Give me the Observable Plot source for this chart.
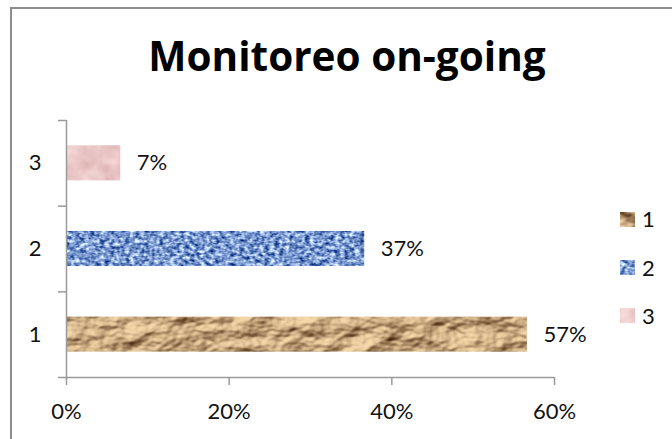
<!DOCTYPE html>
<html>
<head>
<meta charset="utf-8">
<script src="https://cdn.jsdelivr.net/npm/d3@7"></script>
<script src="https://cdn.jsdelivr.net/npm/@observablehq/plot@0.6"></script>
<style>
  html, body { margin: 0; padding: 0; background: #fff; }
  #chart { position: relative; width: 672px; height: 439px; overflow: hidden; font-family: Lato, "Open Sans", sans-serif; }
  #border { position: absolute; left: 10px; top: 7px; width: 700px; height: 470px; border: 2px solid #8c8c8c; box-sizing: border-box; }
  #plot { position: absolute; left: 0; top: 0; }
  #legend { position: absolute; left: 620px; top: 0; }
  .row { position: absolute; left: 0; display: flex; align-items: center; gap: 7px; font-size: 22px; color: #111; line-height: 1; white-space: nowrap; }
  .row svg { display: block; }
</style>
</head>
<body>
<!-- Texture fills for the bars and legend swatches -->
<svg width="0" height="0" style="position:absolute">
  <defs>
    <filter id="f-tan" color-interpolation-filters="sRGB">
      <feTurbulence type="fractalNoise" baseFrequency="0.022 0.035" numOctaves="4" seed="7" result="noise"/>
      <feDiffuseLighting in="noise" surfaceScale="9" diffuseConstant="1" lighting-color="#ffffff" result="lit">
        <feDistantLight azimuth="235" elevation="52"/>
      </feDiffuseLighting>
      <feColorMatrix in="lit" type="matrix" values="0.75 0 0 0 0.22  0.76 0 0 0 0.09  0.68 0 0 0 -0.01  0 0 0 0 1"/>
    </filter>
    <filter id="f-denim" color-interpolation-filters="sRGB">
      <feTurbulence type="fractalNoise" baseFrequency="0.2 0.3" numOctaves="2" seed="3"/>
      <feColorMatrix type="matrix" values="1.475 0 0 0 -0.26  1.375 0 0 0 -0.09  1.0 0 0 0 0.31  0 0 0 0 1"/>
    </filter>
    <filter id="f-rose" color-interpolation-filters="sRGB">
      <feTurbulence type="fractalNoise" baseFrequency="0.05" numOctaves="3" seed="11"/>
      <feColorMatrix type="matrix" values="0.2 0 0 0 0.82  0.3 0 0 0 0.63  0.3 0 0 0 0.63  0 0 0 0 1"/>
    </filter>
    <pattern id="tex-1" patternUnits="userSpaceOnUse" width="672" height="439">
      <rect width="672" height="439" fill="#c3a274" filter="url(#f-tan)"/>
    </pattern>
    <pattern id="tex-2" patternUnits="userSpaceOnUse" width="672" height="439">
      <rect width="672" height="439" fill="#6b8fd6" filter="url(#f-denim)"/>
    </pattern>
    <pattern id="tex-3" patternUnits="userSpaceOnUse" width="672" height="439">
      <rect width="672" height="439" fill="#eac4c4" filter="url(#f-rose)"/>
    </pattern>
  </defs>
</svg>

<div id="chart">
  <div id="border"></div>
  <div id="plot"></div>
  <div id="legend"></div>
</div>

<script>
// Chart data
const title = "Monitoreo on-going";
const categories = ["1", "2", "3"];
const shares = [0.5667, 0.3667, 0.0667];
const xTicks = [0, 0.2, 0.4, 0.6];

// Fill for each category (textures defined in <defs>)
const textures = ["url(#tex-1)", "url(#tex-2)", "url(#tex-3)"];

const pct = d3.format(".0%");
const axisGray = "#9a9a9a";

// One row per category; each category occupies one unit slot on the y scale
const rows = categories.map((category, i) => ({category, share: shares[i], lo: i, hi: i + 1, mid: i + 0.5}));
const boundaries = d3.range(categories.length + 1);
const centers = rows.map(d => d.mid);

const chart = Plot.plot({
  width: 672,
  height: 439,
  marginLeft: 66,
  marginRight: 118,
  marginTop: 120,
  marginBottom: 62,
  style: {fontFamily: "Lato, 'Open Sans', sans-serif", fontSize: "22px", color: "#111", background: "transparent", overflow: "visible"},
  x: {domain: [0, 0.6], label: null},
  y: {domain: [0, categories.length], label: null},
  color: {domain: categories, range: textures},
  marks: [
    Plot.rect(rows, {x1: 0, x2: "share", y1: "lo", y2: "hi", insetTop: 25.3, insetBottom: 25.3, fill: "category"}),
    Plot.ruleX([0], {stroke: axisGray, strokeWidth: 1.5}),
    Plot.ruleY([0], {stroke: axisGray, strokeWidth: 1.5}),
    Plot.axisX(xTicks, {tickSize: 8, tickPadding: 18, tickFormat: pct, stroke: axisGray, strokeWidth: 1.5, fill: "#111", fontSize: 22}),
    Plot.axisY(boundaries, {tickSize: 8, tickFormat: () => "", stroke: axisGray, strokeWidth: 1.5}),
    Plot.axisY(centers, {tickSize: 0, tickPadding: 25, tickFormat: d => categories[Math.floor(d)], fill: "#111", fontSize: 22}),
    Plot.text(rows, {x: "share", y: "mid", text: d => pct(d.share), textAnchor: "start", dx: 16, fill: "#111", fontSize: 22}),
    Plot.text([title], {frameAnchor: "top", dx: 36.5, dy: -50, lineAnchor: "bottom", fontSize: 40.5, fontWeight: "bold", fontFamily: "'Open Sans', Lato, sans-serif", fill: "#000"})
  ]
});
document.getElementById("plot").append(chart);

// Legend: textured swatch + category name, stacked vertically
const legend = d3.select("#legend");
const legendCenters = [219, 267.5, 315.5];
categories.forEach((c, i) => {
  const row = legend.append("div").attr("class", "row").style("top", `${legendCenters[i] - 11}px`).style("height", "22px");
  const sw = row.append("svg").attr("width", 15).attr("height", 15);
  sw.append("rect").attr("width", 15).attr("height", 15).attr("fill", chart.scale("color").apply(c));
  row.append("span").text(c);
});
</script>
</body>
</html>
